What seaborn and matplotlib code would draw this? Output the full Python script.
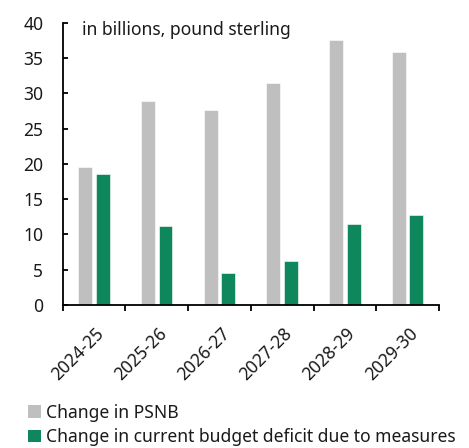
import matplotlib
matplotlib.use("Agg")
import matplotlib.pyplot as plt
import matplotlib.transforms as mtransforms
from matplotlib.patches import Patch
import seaborn as sns
import pandas as pd

years = ["2024-25", "2025-26", "2026-27", "2027-28", "2028-29", "2029-30"]
psnb_change = [19.5, 28.9, 27.6, 31.4, 37.6, 35.9]
current_budget_change = [18.6, 11.2, 4.5, 6.3, 11.5, 12.8]
series_names = ["Change in PSNB", "Change in current budget deficit due to measures"]
series_colors = ["#BFBFBF", "#0F875C"]
y_ticks = [0, 5, 10, 15, 20, 25, 30, 35, 40]
unit_note = "in billions, pound sterling"

sns.set_theme(style="white")
plt.rcParams["font.family"] = ["Noto Sans", "DejaVu Sans"]
FS = 12.6

df = pd.DataFrame({
    "year": years * 2,
    "value": psnb_change + current_budget_change,
    "series": [series_names[0]] * len(years) + [series_names[1]] * len(years),
})

fig = plt.figure(figsize=(4.69, 4.48), dpi=100)
ax = fig.add_axes([0.1337, 0.319, 0.8023, 0.6306])

sns.barplot(
    data=df, x="year", y="value", hue="series", order=years,
    hue_order=series_names, palette=series_colors, saturation=1,
    width=0.56, gap=0.21, edgecolor="white", linewidth=0.4,
    legend=False, ax=ax,
)

ax.set_xlim(-0.5, len(years) - 0.5)
ax.set_ylim(0, 40)
ax.set_yticks(y_ticks)
ax.set_xlabel("")
ax.set_ylabel("")

for side in ("top", "right"):
    ax.spines[side].set_visible(False)
for side in ("left", "bottom"):
    ax.spines[side].set_color("black")
    ax.spines[side].set_linewidth(1.3)

# category boundaries carry the tick marks, centres carry the labels
ax.set_xticks([i - 0.5 for i in range(len(years) + 1)])
ax.set_xticklabels([])
ax.set_xticks(range(len(years)), minor=True)
ax.set_xticklabels(years, minor=True, rotation=45, ha="right", va="top",
                   rotation_mode="anchor")
ax.tick_params(axis="x", which="major", direction="out", length=4.5, width=1.3,
               color="black", bottom=True)
ax.tick_params(axis="x", which="minor", length=0, pad=14, labelsize=FS,
               labelcolor="#1a1a1a", bottom=True)
ax.tick_params(axis="y", direction="in", length=3.5, width=1.3, color="black",
               pad=14, labelsize=FS, labelcolor="#1a1a1a", left=True)
shift = mtransforms.ScaledTranslation(1 / 100, 0, fig.dpi_scale_trans)
for lbl in ax.get_xticklabels(minor=True):
    lbl.set_transform(lbl.get_transform() + shift)

ax.text(0.051, 38.9, unit_note, transform=ax.get_yaxis_transform(),
        ha="left", va="center", fontsize=FS, color="#1a1a1a")

handles = [Patch(facecolor=c, edgecolor="none") for c in series_colors]
fig.legend(handles, series_names, loc="lower left", bbox_to_anchor=(0.045, -0.012),
           frameon=False, handlelength=0.72, handleheight=0.72, handletextpad=0.3,
           labelspacing=0.38, borderaxespad=0, fontsize=FS, labelcolor="#1a1a1a")

fig.savefig("out.png", dpi=100)
